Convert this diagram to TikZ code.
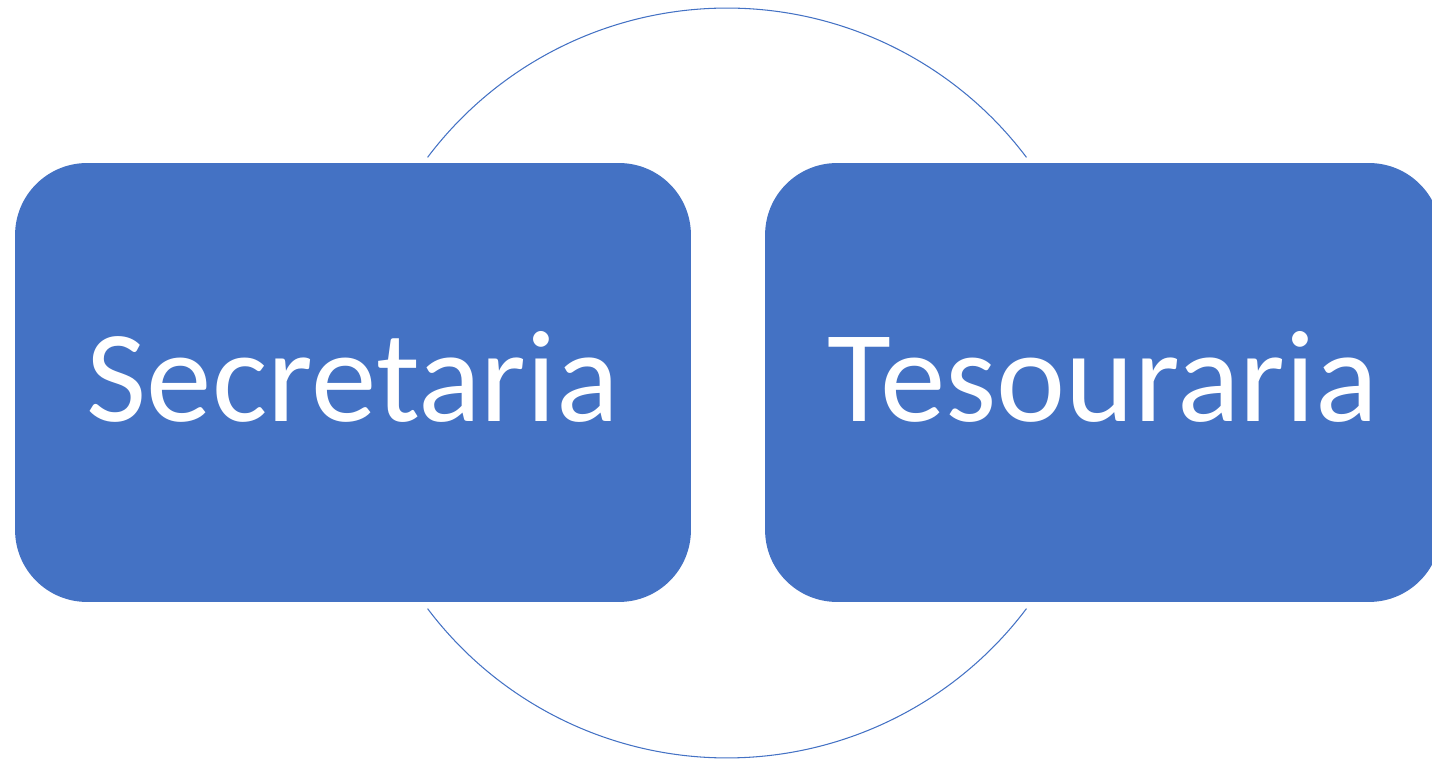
\documentclass[tikz,border=0pt]{standalone}
\usepackage{fontspec}
\setmainfont{Carlito}
\usepackage{tikz}

\definecolor{officeblue}{HTML}{4472C4}

\begin{document}
\begin{tikzpicture}[x=0.02cm, y=0.02cm]

        \useasboundingbox (0,0) rectangle (1432,760);

        \coordinate (ring) at (727,377);

        \begin{scope}[every node/.style={rectangle, fill=officeblue, rounded corners=1.44cm,
            minimum width=13.52cm, minimum height=8.78cm, text=white, text depth=0.24cm,
            font=\fontsize{74.5}{90}\selectfont, inner sep=0pt}]
          \node (secretaria) at (353,377.5) {Secretaria};
          \node (tesouraria) at (1103,377.5) {Tesouraria};
        \end{scope}

        \begin{scope}[every path/.style={draw=officeblue, line width=0.6pt}]
          \path (ring) ++(37:7.5cm) arc[start angle=37, end angle=143, radius=7.5cm];
          \path (ring) ++(217:7.5cm) arc[start angle=217, end angle=323, radius=7.5cm];
        \end{scope}
      \end{tikzpicture}
\end{document}
